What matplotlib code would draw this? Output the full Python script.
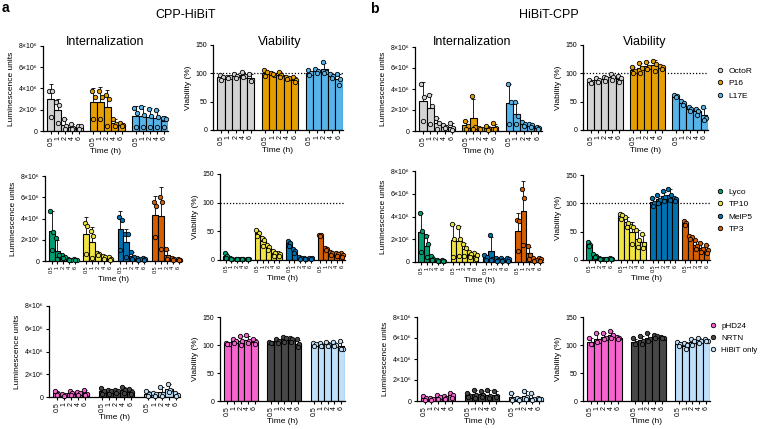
import matplotlib
matplotlib.use("Agg")
import matplotlib.pyplot as plt
from matplotlib.lines import Line2D
import numpy as np

plt.rcParams["font.family"] = ["Liberation Sans", "DejaVu Sans"]

W, H = 761, 429
times = ["0.5", "1", "2", "4", "6"]

colors = {
    "OctoR": "#d3d3d3", "P16": "#e69f00", "L17E": "#56b4e9",
    "Lyco": "#009e73", "TP10": "#f0e442", "MelP5": "#0072b2", "TP3": "#d55e00",
    "pHD24": "#f564cf", "NRTN": "#474747", "HiBiT only": "#bfe0fa",
}
row_names = [["OctoR", "P16", "L17E"],
             ["Lyco", "TP10", "MelP5", "TP3"],
             ["pHD24", "NRTN", "HiBiT only"]]

# replicates per time point (0.5, 1, 2, 4, 6 h); luminescence in 1e6 units, viability in %
a_int_1 = {
    "OctoR": [[3.8, 3.8, 1.3], [2.7, 2.4, 0.8], [1.15, 0.45, 0.2], [0.7, 0.3, 0.2], [0.5, 0.45, 0.2]],
    "P16":   [[3.75, 3.2, 1.1], [3.8, 3.2, 1.1], [3.4, 3.0, 0.5], [1.15, 0.65, 0.45], [0.75, 0.6, 0.45]],
    "L17E":  [[2.2, 1.7, 0.4], [2.25, 1.5, 0.4], [2.1, 1.45, 0.4], [1.95, 1.3, 0.4], [1.25, 1.15, 0.35]],
}
a_via_1 = {
    "OctoR": [[97, 93, 88], [93, 94, 92], [98, 96, 92], [103, 95, 93], [99, 88, 86]],
    "P16":   [[105, 102, 95], [100, 97, 98], [102, 97, 94], [94, 91, 90], [93, 88, 85]],
    "L17E":  [[105, 100, 97], [108, 104, 101], [120, 103, 100], [99, 95, 91], [98, 90, 80]],
}
b_int_1 = {
    "OctoR": [[4.5, 3.25, 0.95], [3.4, 2.4, 0.65], [1.2, 0.75, 0.2], [0.6, 0.4, 0.3], [0.75, 0.3, 0.1]],
    "P16":   [[0.95, 0.45, 0.2], [3.3, 0.35, 0.15], [0.3, 0.2, 0.15], [0.45, 0.2, 0.1], [0.75, 0.3, 0.2]],
    "L17E":  [[4.45, 2.75, 0.7], [2.75, 1.4, 0.7], [0.9, 0.7, 0.5], [0.7, 0.55, 0.4], [0.35, 0.3, 0.2]],
}
b_via_1 = {
    "OctoR": [[88, 84, 83], [91, 88, 85], [94, 91, 86], [98, 93, 88], [95, 91, 85]],
    "P16":   [[112, 104, 100], [118, 110, 100], [120, 111, 107], [121, 117, 104], [113, 112, 108]],
    "L17E":  [[62, 60, 58], [51, 47, 44], [40, 37, 34], [37, 34, 27], [40, 22, 17]],
}
a_int_2 = {
    "Lyco":  [[4.7, 2.75, 1.0], [2.15, 0.55, 0.2], [0.55, 0.4, 0.3], [0.15, 0.1, 0.05], [0.15, 0.1, 0.05]],
    "TP10":  [[3.6, 3.3, 0.7], [2.8, 2.4, 0.3], [0.8, 0.7, 0.55], [0.5, 0.35, 0.2], [0.35, 0.2, 0.1]],
    "MelP5": [[4.1, 3.85, 1.0], [2.5, 2.5, 0.4], [0.85, 0.4, 0.15], [0.3, 0.2, 0.1], [0.3, 0.2, 0.1]],
    "TP3":   [[5.55, 5.15, 2.25], [6.05, 5.55, 1.15], [1.15, 0.35, 0.2], [0.25, 0.15, 0.05], [0.2, 0.1, 0.05]],
}
a_via_2 = {
    "Lyco":  [[13, 7, 3], [3, 2, 1], [2, 1.5, 1], [2, 1.5, 1], [2.5, 1.5, 1]],
    "TP10":  [[52, 47, 41], [39, 35, 25], [26, 22, 17], [15, 12, 7], [12, 10, 7]],
    "MelP5": [[34, 29, 25], [19, 15, 12], [5, 3, 2], [3, 2, 1], [4, 3, 2]],
    "TP3":   [[44, 43, 41], [21, 19, 17], [14, 12, 9], [13, 10, 7], [13, 8, 5]],
}
b_int_2 = {
    "Lyco":  [[4.3, 2.7, 0.9], [2.25, 1.6, 0.4], [0.5, 0.3, 0.15], [0.2, 0.1, 0.05], [0.15, 0.1, 0.05]],
    "TP10":  [[3.3, 2.05, 0.45], [3.05, 2.05, 0.5], [1.6, 1.25, 0.55], [0.85, 0.7, 0.4], [0.75, 0.6, 0.3]],
    "MelP5": [[0.6, 0.4, 0.2], [2.35, 0.3, 0.2], [0.35, 0.2, 0.1], [0.35, 0.2, 0.1], [0.35, 0.25, 0.1]],
    "TP3":   [[3.7, 3.6, 1.0], [6.4, 5.6, 1.5], [1.4, 0.6, 0.3], [0.35, 0.2, 0.1], [0.35, 0.25, 0.1]],
}
b_via_2 = {
    "Lyco":  [[32, 27, 25], [10, 7, 5], [3, 2, 1.5], [2.5, 2, 1.5], [3, 2, 1.5]],
    "TP10":  [[81, 79, 72], [76, 66, 58], [60, 58, 29], [53, 35, 23], [46, 28, 22]],
    "MelP5": [[110, 101, 96], [114, 106, 101], [121, 112, 104], [125, 115, 106], [110, 107, 104]],
    "TP3":   [[69, 66, 62], [43, 41, 37], [35, 25, 20], [30, 19, 14], [27, 17, 12]],
}
a_int_3 = {
    "pHD24":      [[0.5, 0.3, 0.15], [0.3, 0.2, 0.1], [0.5, 0.35, 0.2], [0.45, 0.35, 0.2], [0.6, 0.3, 0.2]],
    "NRTN":       [[0.75, 0.5, 0.3], [0.6, 0.5, 0.3], [0.6, 0.5, 0.35], [0.85, 0.6, 0.35], [0.7, 0.4, 0.3]],
    "HiBiT only": [[0.5, 0.3, 0.1], [0.35, 0.25, 0.1], [0.9, 0.25, 0.1], [1.15, 0.6, 0.4], [0.35, 0.2, 0.1]],
}
a_via_3 = {
    "pHD24":      [[103, 102, 101], [110, 107, 104], [116, 107, 100], [117, 108, 103], [111, 106, 101]],
    "NRTN":       [[105, 104, 103], [110, 107, 104], [115, 112, 106], [113, 110, 105], [110, 101, 97]],
    "HiBiT only": [[104, 101, 99], [104, 99, 98], [105, 100, 99], [106, 100, 98], [107, 93, 92]],
}
b_int_3 = {
    "pHD24":      [[0.45, 0.25, 0.1], [0.25, 0.15, 0.1], [0.6, 0.35, 0.2], [0.5, 0.3, 0.15], [0.75, 0.55, 0.3]],
    "NRTN":       [[0.75, 0.5, 0.35], [1.05, 0.6, 0.3], [0.95, 0.6, 0.4], [1.05, 0.5, 0.3], [1.0, 0.5, 0.35]],
    "HiBiT only": [[0.8, 0.2, 0.1], [0.25, 0.15, 0.1], [0.95, 0.4, 0.2], [0.75, 0.15, 0.1], [0.3, 0.2, 0.15]],
}
b_via_3 = {
    "pHD24":      [[113, 102, 101], [122, 107, 105], [122, 112, 110], [125, 117, 113], [115, 112, 110]],
    "NRTN":       [[112, 104, 102], [116, 108, 102], [122, 110, 108], [118, 116, 112], [114, 113, 112]],
    "HiBiT only": [[106, 102, 98], [104, 100, 93], [110, 107, 100], [113, 108, 104], [110, 108, 107]],
}

fig = plt.figure(figsize=(W / 100, H / 100), dpi=100)


def axes_px(l, t, r, b):
    return fig.add_axes([l / W, 1 - b / H, (r - l) / W, (b - t) / H])


def panel(ax, data, names, kind, gap, hline, xfs):
    offs = [-0.2, 0.2, 0.0]
    allx = []
    for g, nm in enumerate(names):
        reps = np.array(data[nm], dtype=float)
        xs = g * (5 + gap) + np.arange(5)
        allx.extend(xs)
        mean = reps.mean(1)
        sd = reps.std(1, ddof=1)
        ax.bar(xs, mean, width=1.0, color=colors[nm], edgecolor="black", linewidth=0.8, zorder=2)
        ax.errorbar(xs, mean, yerr=[np.zeros(5), sd], fmt="none", ecolor="black",
                    elinewidth=0.6, capsize=1.4, capthick=0.6, zorder=3)
        for j in range(3):
            ax.scatter(xs + offs[j], reps[:, j], s=10, color=colors[nm], edgecolor="black",
                       linewidth=0.6, zorder=4, clip_on=False)
    ax.set_xlim(-1.1, allx[-1] + 0.55)
    ax.set_xticks(allx)
    ax.set_xticklabels(times * len(names), rotation=90, fontsize=xfs)
    if kind == "int":
        ax.set_ylim(0, 8)
        ax.set_yticks([0, 2, 4, 6, 8])
        ax.set_yticklabels(["0", "2×10⁶", "4×10⁶", "6×10⁶", "8×10⁶"], fontsize=5)
        ax.set_ylabel("Luminescence units", fontsize=6, labelpad=3)
    else:
        ax.set_ylim(0, 150)
        ax.set_yticks([0, 50, 100, 150])
        ax.set_yticklabels(["0", "50", "100", "150"], fontsize=5)
        ax.set_ylabel("Viability (%)", fontsize=6, labelpad=3)
        if hline:
            ax.axhline(100, color="black", linestyle=(0, (1, 1.5)), linewidth=0.9, zorder=1)
    ax.set_xlabel("Time (h)", fontsize=6, labelpad=2)
    for s in ["top", "right"]:
        ax.spines[s].set_visible(False)
    for s in ["left", "bottom"]:
        ax.spines[s].set_linewidth(0.9)
    ax.tick_params(length=2.5, width=0.8, pad=1.5)
    ax.tick_params(axis="x", pad=1)
    ax.patch.set_alpha(0)


# (data, kind, row, box in pixels l,t,r,b, hline)
layout = [
    (a_int_1, "int", 0, (43, 46, 168, 131), False),
    (a_via_1, "via", 0, (213, 45, 343, 130), True),
    (b_int_1, "int", 0, (415, 47, 542, 131), False),
    (b_via_1, "via", 0, (583, 45, 708, 130), True),
    (a_int_2, "int", 1, (45, 176, 182, 261), False),
    (a_via_2, "via", 1, (220, 174, 345, 260), True),
    (b_int_2, "int", 1, (415, 171, 543, 262), False),
    (b_via_2, "via", 1, (583, 175, 710, 260), True),
    (a_int_3, "int", 2, (49, 306, 180, 397), False),
    (a_via_3, "via", 2, (220, 317, 345, 401), False),
    (b_int_3, "int", 2, (417, 317, 543, 401), False),
    (b_via_3, "via", 2, (583, 317, 710, 401), False),
]
gaps = [1.0, 0.8, 1.4]
xfont = [5, 4.0, 5]
for data, kind, row, box, hl in layout:
    ax = axes_px(*box)
    panel(ax, data, row_names[row], kind, gaps[row], hl, xfont[row])

# legends next to the right-hand viability panels
legend_pos = [(716, 67), (716, 188), (709, 322)]
legend_fs = [6, 6, 5.8]
for row, (lx, ly) in enumerate(legend_pos):
    handles = [Line2D([], [], marker="o", linestyle="none", markersize=3.2,
                      markerfacecolor=colors[nm], markeredgecolor="black", markeredgewidth=0.6)
               for nm in row_names[row]]
    fig.legend(handles, row_names[row], loc="upper left", bbox_to_anchor=(lx / W, 1 - ly / H),
               frameon=False, fontsize=legend_fs[row], handlelength=1.0, handletextpad=0.5,
               labelspacing=0.55, borderaxespad=0, borderpad=0)

fig.text(2 / W, 1 - 8 / H, "a", fontsize=10, fontweight="bold", ha="left", va="center")
fig.text(370 / W, 1 - 9 / H, "b", fontsize=10, fontweight="bold", ha="left", va="center")
fig.text(186 / W, 1 - 15 / H, "CPP-HiBiT", fontsize=9, ha="center", va="center")
fig.text(549 / W, 1 - 15 / H, "HiBiT-CPP", fontsize=9, ha="center", va="center")
for x, s in [(105, "Internalization"), (280, "Viability"), (472, "Internalization"), (645, "Viability")]:
    fig.text(x / W, 1 - 42 / H, s, fontsize=9, ha="center", va="center")

fig.savefig("out.png", dpi=100)
